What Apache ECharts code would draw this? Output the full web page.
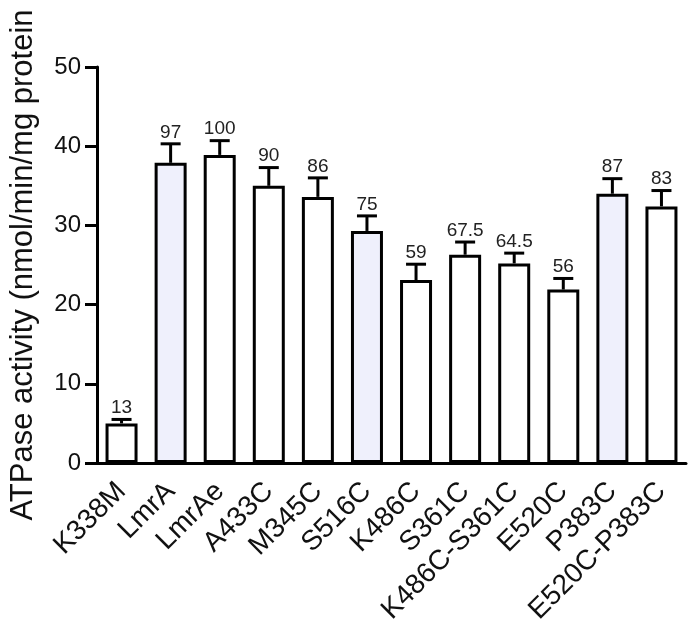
<!DOCTYPE html>
<html>
<head>
<meta charset="utf-8">
<script src="https://cdn.jsdelivr.net/npm/echarts@6/dist/echarts.min.js"></script>
<style>
  html, body { margin: 0; padding: 0; background: #fff; }
  #chart { width: 691px; height: 632px; }
</style>
</head>
<body>
<div id="chart"></div>
<script>
const categories = ["K338M", "LmrA", "LmrAe", "A433C", "M345C", "S516C", "K486C", "S361C", "K486C-S361C", "E520C", "P383C", "E520C-P383C"];
const activity = [5.0, 37.9, 38.9, 35.0, 33.6, 29.3, 23.1, 26.3, 25.2, 21.9, 34.0, 32.4];
const sem = [0.5, 2.4, 1.8, 2.3, 2.4, 1.9, 2.0, 1.6, 1.3, 1.4, 1.9, 2.0];
const percentLabels = ["13", "97", "100", "90", "86", "75", "59", "67.5", "64.5", "56", "87", "83"];
const shaded = [false, true, false, false, false, true, false, false, false, false, true, false];

const font = "Liberation Sans, Arial, sans-serif";
const chart = echarts.init(document.getElementById("chart"));

const barData = activity.map((v, i) => ({
  value: v,
  itemStyle: { color: shaded[i] ? "#eff0fc" : "#ffffff" }
}));

const errData = activity.map((v, i) => [i, v, v + sem[i]]);

chart.setOption({
  animation: false,
  grid: { left: 95, right: 5, top: 67, bottom: 169 },
  xAxis: {
    type: "category",
    data: categories,
    axisLine: { lineStyle: { color: "#000", width: 3 } },
    axisTick: { alignWithLabel: true, length: 11, lineStyle: { color: "#000", width: 3 } },
    axisLabel: { interval: 0, rotate: 45, fontSize: 28, fontFamily: font, color: "#111", margin: 24 }
  },
  yAxis: {
    type: "value",
    min: 0,
    max: 50,
    interval: 10,
    name: "ATPase activity (nmol/min/mg protein",
    nameLocation: "middle",
    nameGap: 58,
    nameTextStyle: { fontSize: 31, fontFamily: font, color: "#111" },
    axisLine: { show: true, lineStyle: { color: "#000", width: 3 } },
    axisTick: { show: true, length: 12, lineStyle: { color: "#000", width: 3 } },
    axisLabel: { fontSize: 24, fontFamily: font, color: "#111", margin: 16 },
    splitLine: { show: false }
  },
  series: [
    {
      type: "bar",
      data: barData,
      barWidth: 32,
      itemStyle: { borderColor: "#000", borderWidth: 3 },
      z: 2
    },
    {
      type: "custom",
      data: errData,
      z: 1,
      renderItem: function (params, api) {
        const i = api.value(0);
        const base = api.coord([i, api.value(1)]);
        const top = api.coord([i, api.value(2)]);
        const half = 10;
        return {
          type: "group",
          children: [
            { type: "line", shape: { x1: base[0], y1: base[1], x2: top[0], y2: top[1] }, style: { stroke: "#000", lineWidth: 3 } },
            { type: "line", shape: { x1: top[0] - half, y1: top[1], x2: top[0] + half, y2: top[1] }, style: { stroke: "#000", lineWidth: 3 } },
            { type: "text", x: top[0], y: top[1] - 2, style: { text: percentLabels[params.dataIndex], fontSize: 19, fontFamily: font, fill: "#222", align: "center", verticalAlign: "bottom" } }
          ]
        };
      }
    }
  ]
});
</script>
</body>
</html>
